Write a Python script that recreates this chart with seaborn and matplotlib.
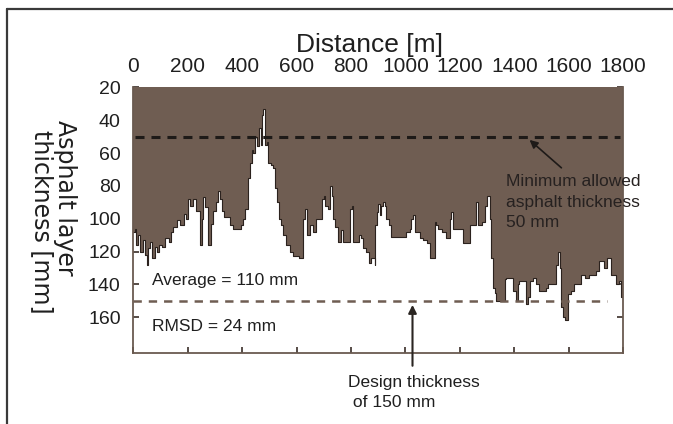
import matplotlib
matplotlib.use("Agg")
import matplotlib.pyplot as plt
import seaborn as sns
import pandas as pd
from matplotlib.lines import Line2D

# ---------------- data ----------------
distance_m = [0, 6, 12, 18, 25, 35, 42, 49, 56, 62, 70, 80, 86, 95, 105, 117, 130, 140, 147,
              160, 172, 185, 195, 202, 210, 221, 232, 245, 252, 257, 265, 276, 285, 294, 303,
              312, 318, 325, 335, 343, 355, 367, 380, 395, 404, 412, 422, 430, 435, 441, 448,
              455, 462, 468, 473, 478, 484, 490, 496, 505, 515, 520, 528, 535, 542, 552, 563,
              575, 588, 610, 624, 630, 637, 648, 660, 673, 684, 692, 700, 706, 716, 724, 730,
              734, 743, 753, 762, 771, 785, 796, 804, 808, 820, 830, 838, 845, 857, 865, 875,
              887, 890, 895, 900, 906, 912, 918, 925, 930, 940, 948, 970, 990, 1003, 1015,
              1022, 1028, 1034, 1045, 1052, 1065, 1080, 1089, 1100, 1107, 1114, 1120, 1135,
              1150, 1162, 1168, 1175, 1190, 1200, 1211, 1225, 1236, 1250, 1258, 1266, 1280,
              1291, 1300, 1309, 1315, 1322, 1328, 1333, 1345, 1360, 1365, 1370, 1385, 1395,
              1405, 1412, 1419, 1435, 1444, 1450, 1456, 1470, 1480, 1492, 1505, 1515, 1523,
              1540, 1554, 1560, 1566, 1572, 1580, 1588, 1596, 1608, 1621, 1635, 1645, 1660,
              1676, 1690, 1700, 1712, 1722, 1731, 1742, 1755, 1765, 1774, 1785, 1792, 1800]
thickness_mm = [108, 106, 116, 110, 120, 113, 122, 128, 118, 114, 124, 117, 120, 116, 117, 112,
                114, 108, 105, 101, 104, 97, 100, 88, 92, 88, 95, 116, 100, 87, 93, 116, 103,
                95, 90, 83, 88, 95, 99, 99, 104, 106, 106, 104, 100, 94, 75, 66, 58, 60, 50,
                56, 45, 55, 37, 33, 55, 53, 66, 67, 69, 81, 90, 100, 104, 110, 116, 120, 123,
                124, 100, 94, 110, 104, 108, 100, 100, 88, 86, 92, 94, 80, 86, 100, 105, 114,
                107, 114, 114, 94, 92, 114, 114, 110, 112, 118, 120, 127, 124, 128, 104, 96,
                91, 98, 92, 90, 92, 100, 104, 111, 111, 111, 108, 106, 100, 98, 108, 108, 112,
                113, 115, 124, 124, 102, 104, 106, 108, 112, 100, 96, 106, 106, 106, 115, 115,
                104, 104, 90, 104, 102, 92, 86, 100, 124, 142, 145, 150, 150, 150, 137, 136,
                136, 144, 150, 140, 138, 138, 152, 148, 138, 136, 140, 144, 144, 142, 140, 140,
                128, 120, 130, 154, 160, 162, 146, 144, 140, 140, 134, 136, 134, 134, 132, 126,
                126, 130, 124, 134, 134, 140, 138, 148, 148]
x_ticks = [0, 200, 400, 600, 800, 1000, 1200, 1400, 1600, 1800]
y_ticks = [20, 40, 60, 80, 100, 120, 140, 160]
min_allowed_mm = 50
design_mm = 150
average_mm = 110
rmsd_mm = 24

# ---------------- style ----------------
sns.set_theme(style="white")
REG = ['Liberation Sans', 'DejaVu Sans']
plt.rcParams['font.family'] = REG
plt.rcParams['lines.scale_dashes'] = False

BROWN = '#6f5d52'
DARK = '#1e1a18'
TXT = '#1f1f1f'

W, H = 673, 424


def fx(px):
    return px / W


def fy(py):
    return 1 - py / H


fig = plt.figure(figsize=(W / 100, H / 100), dpi=100)
fig.patch.set_facecolor('white')
ax = fig.add_axes([fx(133.2), fy(353.3), (623.2 - 133.2) / W, (353.3 - 87.4) / H])
ax.set_facecolor('white')

df = pd.DataFrame({'distance': distance_m, 'thickness': thickness_mm})

ax.fill_between(df['distance'], 0, df['thickness'], step='post', color=BROWN, lw=0, zorder=1)
sns.lineplot(data=df, x='distance', y='thickness', drawstyle='steps-post', color='#2b221e',
             lw=0.8, ax=ax, zorder=2, sort=True, estimator=None)

ax.axhline(min_allowed_mm, xmin=0.004, xmax=0.994, color=DARK, lw=2.2, ls=(0, (6.5, 5)), zorder=3)
ax.axhline(design_mm, xmin=0.0, xmax=0.967, color=BROWN, lw=1.8, ls=(0, (6, 5)), zorder=3)

ax.set_xlim(0, 1800)
ax.set_ylim(182, 20)
ax.set_xticks(x_ticks)
ax.set_yticks(y_ticks)
ax.set_xticklabels([str(t) for t in x_ticks])
ax.set_yticklabels([str(t) for t in y_ticks])

ax.tick_params(axis='x', bottom=True, top=False, labelbottom=False, labeltop=True,
               direction='in', length=4, width=1.2, color='#3a2e28', pad=8,
               labelsize=15, labelcolor=TXT)
ax.tick_params(axis='y', left=True, right=True, labelleft=True, labelright=False,
               direction='in', length=4, width=1.2, color='#3a2e28', pad=9,
               labelsize=14, labelcolor=TXT)

for side in ['left', 'right', 'bottom']:
    ax.spines[side].set_visible(True)
    ax.spines[side].set_color('#6a5a50')
    ax.spines[side].set_linewidth(1.3)
ax.spines['top'].set_visible(False)

ax.set_xlabel('Distance [m]', fontsize=19, color=TXT)
ax.xaxis.set_label_position('top')
ax.xaxis.set_label_coords((369 - 133.2) / 490, 1 + (87.4 - 52) / 265.9)
ax.set_ylabel('')

# y label (two rotated lines)
fig.text(fx(65), fy(198), 'Asphalt layer', rotation=270, ha='center', va='center',
         fontsize=17, family=['DejaVu Sans'], color=TXT)
fig.text(fx(41.7), fy(222), 'thickness [mm]', rotation=270, ha='center', va='center',
         fontsize=17, family=['DejaVu Sans'], color=TXT)

# annotations
fig.text(fx(151.7), fy(280), f'Average = {average_mm} mm', ha='left', va='center',
         fontsize=12.5, family=REG, color=TXT)
fig.text(fx(151.7), fy(326.7), f'RMSD = {rmsd_mm} mm', ha='left', va='center',
         fontsize=12.5, family=REG, color=TXT)
fig.text(fx(506.5), fy(174.5), f'Minimum allowed\nasphalt thickness\n{min_allowed_mm} mm',
         ha='left', va='top', fontsize=12.5, family=REG, color='#262120', linespacing=1.42)
fig.text(fx(348), fy(375.5), f'Design thickness\n of {design_mm} mm', ha='left', va='top',
         fontsize=12.5, family=REG, color=TXT, linespacing=1.38)

ax.annotate('', xy=(1456, 52), xytext=(1573, 69),
            arrowprops=dict(arrowstyle='-|>', color=DARK, lw=1.2, mutation_scale=12,
                            shrinkA=0, shrinkB=0), zorder=4)
ax.annotate('', xy=(1026, 152.5), xytext=(1026, 189.6), annotation_clip=False,
            arrowprops=dict(arrowstyle='-|>', color='#2a2522', lw=1.5, mutation_scale=12,
                            shrinkA=0, shrinkB=0), zorder=4)

# outer frame (top and left edges visible in the reference)
fig.add_artist(Line2D([fx(7), fx(7)], [0, fy(9)], transform=fig.transFigure,
                      color='#3a3a3a', lw=1.6))
fig.add_artist(Line2D([fx(7), 1], [fy(9), fy(9)], transform=fig.transFigure,
                      color='#3a3a3a', lw=1.6))

fig.savefig('out.png', dpi=100, facecolor='white')
